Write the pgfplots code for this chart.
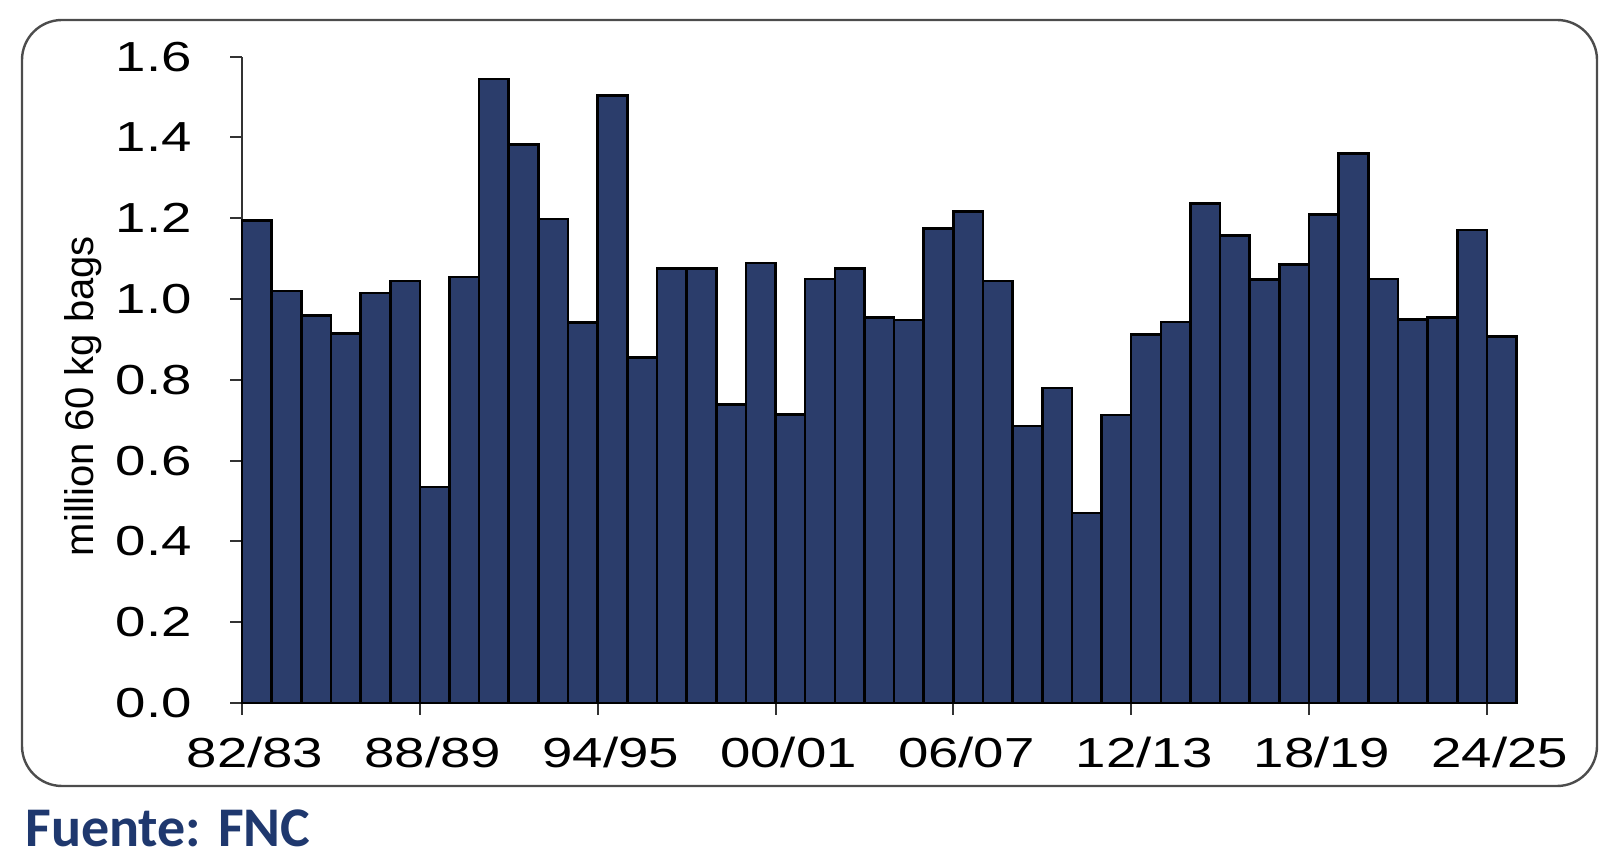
\documentclass[border=0pt]{standalone}
\usepackage{pgfplots}
\pgfplotsset{compat=1.18}
\usepackage{pgfplotstable}
\usepackage{fontspec}
\setmainfont{Liberation Sans}
\newfontfamily\fuentefont{Carlito}
\definecolor{barblue}{RGB}{43,61,107}
\definecolor{srcblue}{RGB}{31,56,110}
\pgfplotstableread{
x y
0.5 1.195
1.5 1.02
2.5 0.96
3.5 0.914
4.5 1.015
5.5 1.045
6.5 0.535
7.5 1.055
8.5 1.545
9.5 1.383
10.5 1.198
11.5 0.942
12.5 1.504
13.5 0.855
14.5 1.076
15.5 1.075
16.5 0.739
17.5 1.089
18.5 0.714
19.5 1.05
20.5 1.076
21.5 0.954
22.5 0.948
23.5 1.174
24.5 1.217
25.5 1.045
26.5 0.686
27.5 0.78
28.5 0.47
29.5 0.713
30.5 0.912
31.5 0.943
32.5 1.237
33.5 1.157
34.5 1.049
35.5 1.086
36.5 1.21
37.5 1.36
38.5 1.05
39.5 0.949
40.5 0.955
41.5 1.171
42.5 0.908
}\coffee
\begin{document}
\begin{tikzpicture}
\useasboundingbox (0,0) rectangle (800bp,430bp);
\draw[line width=1.2bp, gray!60!black, rounded corners=20bp] (11bp,37bp) rectangle (798.5bp,420bp);
\begin{axis}[
  at={(121bp,78.5bp)}, anchor=south west,
  width=637.25bp, height=323.15bp, scale only axis,
  xmin=0, xmax=43, ymin=0, ymax=1.6,
  axis lines*=left,
  axis line style={line width=1bp, black!80},
  tick style={line width=1bp, black!80},
  tick align=outside, major tick length=6bp,
  xtick={0,6,12,18,24,30,36,42},
  xticklabels={\scalebox{1.3}[1]{82/83},\scalebox{1.3}[1]{88/89},\scalebox{1.3}[1]{94/95},\scalebox{1.3}[1]{00/01},\scalebox{1.3}[1]{06/07},\scalebox{1.3}[1]{12/13},\scalebox{1.3}[1]{18/19},\scalebox{1.3}[1]{24/25}},
  ytick={0,0.2,0.4,0.6,0.8,1.0,1.2,1.4,1.6},
  yticklabels={\scalebox{1.3}[1]{0.0},\scalebox{1.3}[1]{0.2},\scalebox{1.3}[1]{0.4},\scalebox{1.3}[1]{0.6},\scalebox{1.3}[1]{0.8},\scalebox{1.3}[1]{1.0},\scalebox{1.3}[1]{1.2},\scalebox{1.3}[1]{1.4},\scalebox{1.3}[1]{1.6}},
  xticklabel style={font=\fontsize{21bp}{24bp}\selectfont, anchor=north, inner sep=0pt, yshift=-11bp, xshift=6.5bp},
  yticklabel style={font=\fontsize{21bp}{24bp}\selectfont, anchor=east, inner sep=0pt, xshift=-19bp},
  ylabel={million 60 kg bags},
  ylabel style={font=\fontsize{20bp}{24bp}\selectfont, at={(axis description cs:-0.1248,0.475)}, anchor=center, rotate=0},
  clip=false,
]
\addplot[ybar, bar width=1, bar shift=0pt, fill=barblue, draw=black, line width=1.3bp] table[x=x,y=y] {\coffee};
\end{axis}
\node[anchor=base west, inner sep=0pt, text=srcblue, font=\fuentefont\bfseries\fontsize{28bp}{34bp}\selectfont] at (12.5bp,7bp) {Fuente: FNC};
\end{tikzpicture}
\end{document}
